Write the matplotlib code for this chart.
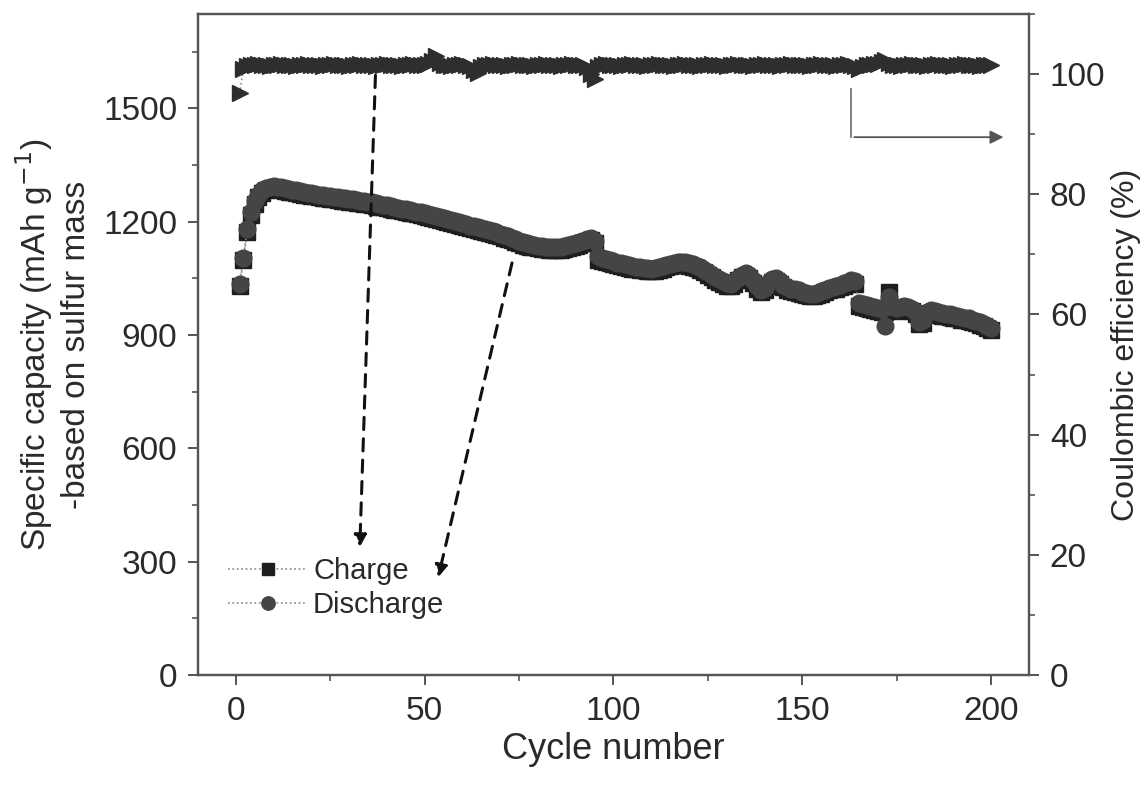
import matplotlib
matplotlib.use("Agg")
import matplotlib.pyplot as plt
from matplotlib.ticker import MultipleLocator

plt.rcParams['font.family'] = ['Liberation Sans', 'DejaVu Sans']

cycles = list(range(1, 201))

discharge = [
    1035, 1105, 1180, 1225, 1255, 1272, 1283, 1290, 1293, 1294,
    1293, 1291, 1289, 1287, 1285, 1283, 1281, 1279, 1277, 1275,
    1274, 1272, 1271, 1269, 1268, 1266, 1265, 1263, 1262, 1260,
    1259, 1257, 1256, 1254, 1253, 1251, 1249, 1247, 1245, 1243,
    1241, 1239, 1237, 1235, 1233, 1231, 1229, 1227, 1225, 1222,
    1220, 1217, 1214, 1212, 1209, 1206, 1204, 1201, 1198, 1196,
    1193, 1190, 1188, 1185, 1183, 1180, 1178, 1175, 1172, 1168,
    1165, 1161, 1158, 1154, 1150, 1146, 1143, 1141, 1139, 1137,
    1135, 1134, 1133, 1132, 1132, 1133, 1135, 1138, 1140, 1143,
    1146, 1150, 1155, 1158, 1150, 1108, 1104, 1101, 1098, 1095,
    1092, 1090, 1087, 1085, 1083, 1081, 1079, 1078, 1077, 1076,
    1077, 1079, 1082, 1086, 1089, 1092, 1093, 1094, 1093, 1091,
    1088, 1084, 1079, 1073, 1066, 1060, 1054, 1048, 1043, 1038,
    1036, 1042, 1052, 1060, 1063, 1058, 1045, 1030, 1020, 1025,
    1038, 1048, 1050, 1043, 1033, 1026, 1023, 1021, 1018, 1015,
    1012, 1010, 1010, 1012, 1016, 1020, 1025, 1028, 1030, 1033,
    1037, 1041, 1045, 1043, 985, 982, 979, 977, 974, 971,
    968, 925, 1000, 975, 972, 975, 976, 974, 970, 962,
    935, 940, 962, 966, 964, 960, 958, 957, 955, 953,
    951, 948, 946, 944, 941, 938, 934, 930, 925, 920,
]

charge = [
    1030, 1098, 1172, 1218, 1248, 1265, 1276, 1283, 1286, 1287,
    1286, 1284, 1282, 1280, 1278, 1276, 1274, 1272, 1270, 1268,
    1267, 1265, 1264, 1262, 1261, 1259, 1258, 1256, 1255, 1253,
    1252, 1250, 1249, 1247, 1246, 1244, 1242, 1240, 1238, 1236,
    1234, 1232, 1230, 1228, 1226, 1224, 1222, 1220, 1218, 1215,
    1213, 1210, 1207, 1205, 1202, 1199, 1197, 1194, 1191, 1189,
    1186, 1183, 1181, 1178, 1176, 1173, 1171, 1168, 1165, 1161,
    1158, 1154, 1151, 1147, 1143, 1139, 1136, 1134, 1132, 1130,
    1128, 1127, 1126, 1125, 1125, 1126, 1128, 1131, 1133, 1136,
    1139, 1143, 1148, 1152, 1145, 1100, 1097, 1094, 1091, 1088,
    1085, 1083, 1080, 1078, 1076, 1074, 1072, 1071, 1070, 1069,
    1070, 1072, 1075, 1079, 1082, 1085, 1086, 1087, 1086, 1084,
    1081, 1077, 1072, 1066, 1059, 1053, 1047, 1041, 1036, 1031,
    1029, 1035, 1045, 1053, 1056, 1051, 1038, 1023, 1013, 1018,
    1031, 1041, 1043, 1036, 1026, 1019, 1016, 1014, 1011, 1008,
    1005, 1003, 1003, 1005, 1009, 1013, 1018, 1021, 1023, 1026,
    1030, 1034, 1038, 1036, 978, 975, 972, 970, 967, 964,
    961, 960, 1015, 968, 965, 968, 969, 967, 963, 955,
    930, 933, 955, 959, 957, 953, 951, 950, 948, 946,
    944, 941, 939, 937, 934, 931, 927, 923, 918, 913,
]

efficiency = [
    96.8, 100.8, 101.3, 101.5, 101.5, 101.6, 101.5, 101.5, 101.4, 101.5,
    101.5, 101.6, 101.5, 101.5, 101.5, 101.4, 101.5, 101.5, 101.6, 101.5,
    101.5, 101.5, 101.4, 101.5, 101.5, 101.6, 101.5, 101.5, 101.5, 101.4,
    101.5, 101.5, 101.6, 101.5, 101.5, 101.5, 101.4, 101.5, 101.5, 101.6,
    101.5, 101.5, 101.5, 101.4, 101.5, 101.5, 101.6, 101.5, 101.5, 101.5,
    101.6, 102.2, 103.0, 101.8, 101.5, 101.5, 101.4, 101.5, 101.5, 101.6,
    101.5, 101.3, 100.7, 100.2, 101.2, 101.5, 101.5, 101.6, 101.5, 101.5,
    101.5, 101.4, 101.5, 101.5, 101.6, 101.5, 101.5, 101.5, 101.4, 101.5,
    101.5, 101.6, 101.5, 101.5, 101.5, 101.4, 101.5, 101.5, 101.6, 101.5,
    101.5, 101.5, 101.2, 100.0, 99.2, 101.2, 101.5, 101.6, 101.5, 101.5,
    101.5, 101.4, 101.5, 101.5, 101.6, 101.5, 101.5, 101.5, 101.4, 101.5,
    101.5, 101.6, 101.5, 101.5, 101.5, 101.4, 101.5, 101.5, 101.6, 101.5,
    101.5, 101.5, 101.4, 101.5, 101.5, 101.6, 101.5, 101.5, 101.5, 101.4,
    101.5, 101.5, 101.6, 101.5, 101.5, 101.5, 101.4, 101.5, 101.5, 101.6,
    101.5, 101.5, 101.5, 101.4, 101.5, 101.5, 101.6, 101.5, 101.5, 101.5,
    101.5, 101.4, 101.5, 101.5, 101.6, 101.5, 101.5, 101.5, 101.4, 101.5,
    101.5, 101.6, 101.5, 101.3, 100.8, 101.2, 101.5, 101.5, 101.6, 101.7,
    102.0, 102.4, 101.8, 101.5, 101.5, 101.4, 101.5, 101.5, 101.6, 101.5,
    101.5, 101.5, 101.4, 101.5, 101.5, 101.6, 101.5, 101.5, 101.5, 101.4,
    101.5, 101.5, 101.6, 101.5, 101.5, 101.5, 101.4, 101.5, 101.5, 101.5,
]

x_ticks = [0, 50, 100, 150, 200]
cap_ticks = [0, 300, 600, 900, 1200, 1500]
ce_ticks = [0, 20, 40, 60, 80, 100]

FS = 24
TXT = '#2a2a2a'
SPINE = '#555555'

fig = plt.figure(figsize=(11.48, 7.86), dpi=100)
ax = fig.add_axes([0.1725, 0.1412, 0.7238, 0.841])
ax2 = ax.twinx()

ln_c, = ax.plot(cycles, charge, linestyle=':', color='#888888', lw=1.2,
                marker='s', markersize=11, markerfacecolor='#1e1e1e',
                markeredgecolor='#1e1e1e', label='Charge', zorder=3)
ln_d, = ax.plot(cycles, discharge, linestyle=':', color='#888888', lw=1.2,
                marker='o', markersize=12, markerfacecolor='#454545',
                markeredgecolor='#454545', label='Discharge', zorder=4)
ax2.plot(cycles, efficiency, linestyle=':', color='#888888', lw=1.2,
         marker='>', markersize=11, markerfacecolor='#2e2e2e',
         markeredgecolor='#2e2e2e', zorder=3)

ax.set_xlim(-10, 210)
ax.set_ylim(0, 1750)
ax2.set_ylim(0, 110)

ax.set_xticks(x_ticks)
ax.set_yticks(cap_ticks)
ax2.set_yticks(ce_ticks)
ax.xaxis.set_minor_locator(MultipleLocator(25))
ax.yaxis.set_minor_locator(MultipleLocator(150))
ax2.yaxis.set_minor_locator(MultipleLocator(10))

for a in (ax, ax2):
    a.tick_params(which='major', direction='out', length=7, width=1.4,
                  color=SPINE, labelsize=FS, labelcolor=TXT, pad=8)
    a.tick_params(which='minor', direction='out', length=4, width=1.2,
                  color=SPINE)
    for s in a.spines.values():
        s.set_color(SPINE)
        s.set_linewidth(1.6)
ax.tick_params(axis='y', which='both', right=False)
ax.tick_params(axis='x', which='both', top=False)

ax.set_xlabel('Cycle number', fontsize=FS + 2, color=TXT, labelpad=4)
ax.set_ylabel('Specific capacity (mAh g$^{-1}$)\n-based on sulfur mass',
              fontsize=FS, color=TXT, labelpad=8, linespacing=1.25)
ax2.set_ylabel('Coulombic efficiency (%)', fontsize=FS - 1, color=TXT,
               labelpad=4)

leg = ax.legend(handles=[ln_c, ln_d], loc='lower left',
                bbox_to_anchor=(0.005, 0.045), frameon=False, fontsize=21,
                handlelength=2.7, handletextpad=0.2, labelspacing=0.2,
                markerscale=0.8)
for t in leg.get_texts():
    t.set_color(TXT)

# dashed pointer arrows
ax.annotate('', xy=(32.8, 331), xytext=(37.0, 1595),
            arrowprops=dict(arrowstyle='-|>', linestyle=(0, (4, 3)),
                            color='#111111', lw=2.2, mutation_scale=18),
            zorder=6)
ax.annotate('', xy=(53.4, 251), xytext=(73.3, 1098),
            arrowprops=dict(arrowstyle='-|>', linestyle=(0, (4, 3)),
                            color='#111111', lw=2.2, mutation_scale=18),
            zorder=6)

# bent arrow pointing to the right axis
ax2.plot([163, 163], [97.5, 89.5], color='#777777', lw=1.3, zorder=5)
ax2.annotate('', xy=(204, 89.5), xytext=(163, 89.5),
             arrowprops=dict(arrowstyle='-|>', color='#555555', lw=1.3,
                             mutation_scale=20), zorder=5)

fig.savefig('out.png', dpi=100)
